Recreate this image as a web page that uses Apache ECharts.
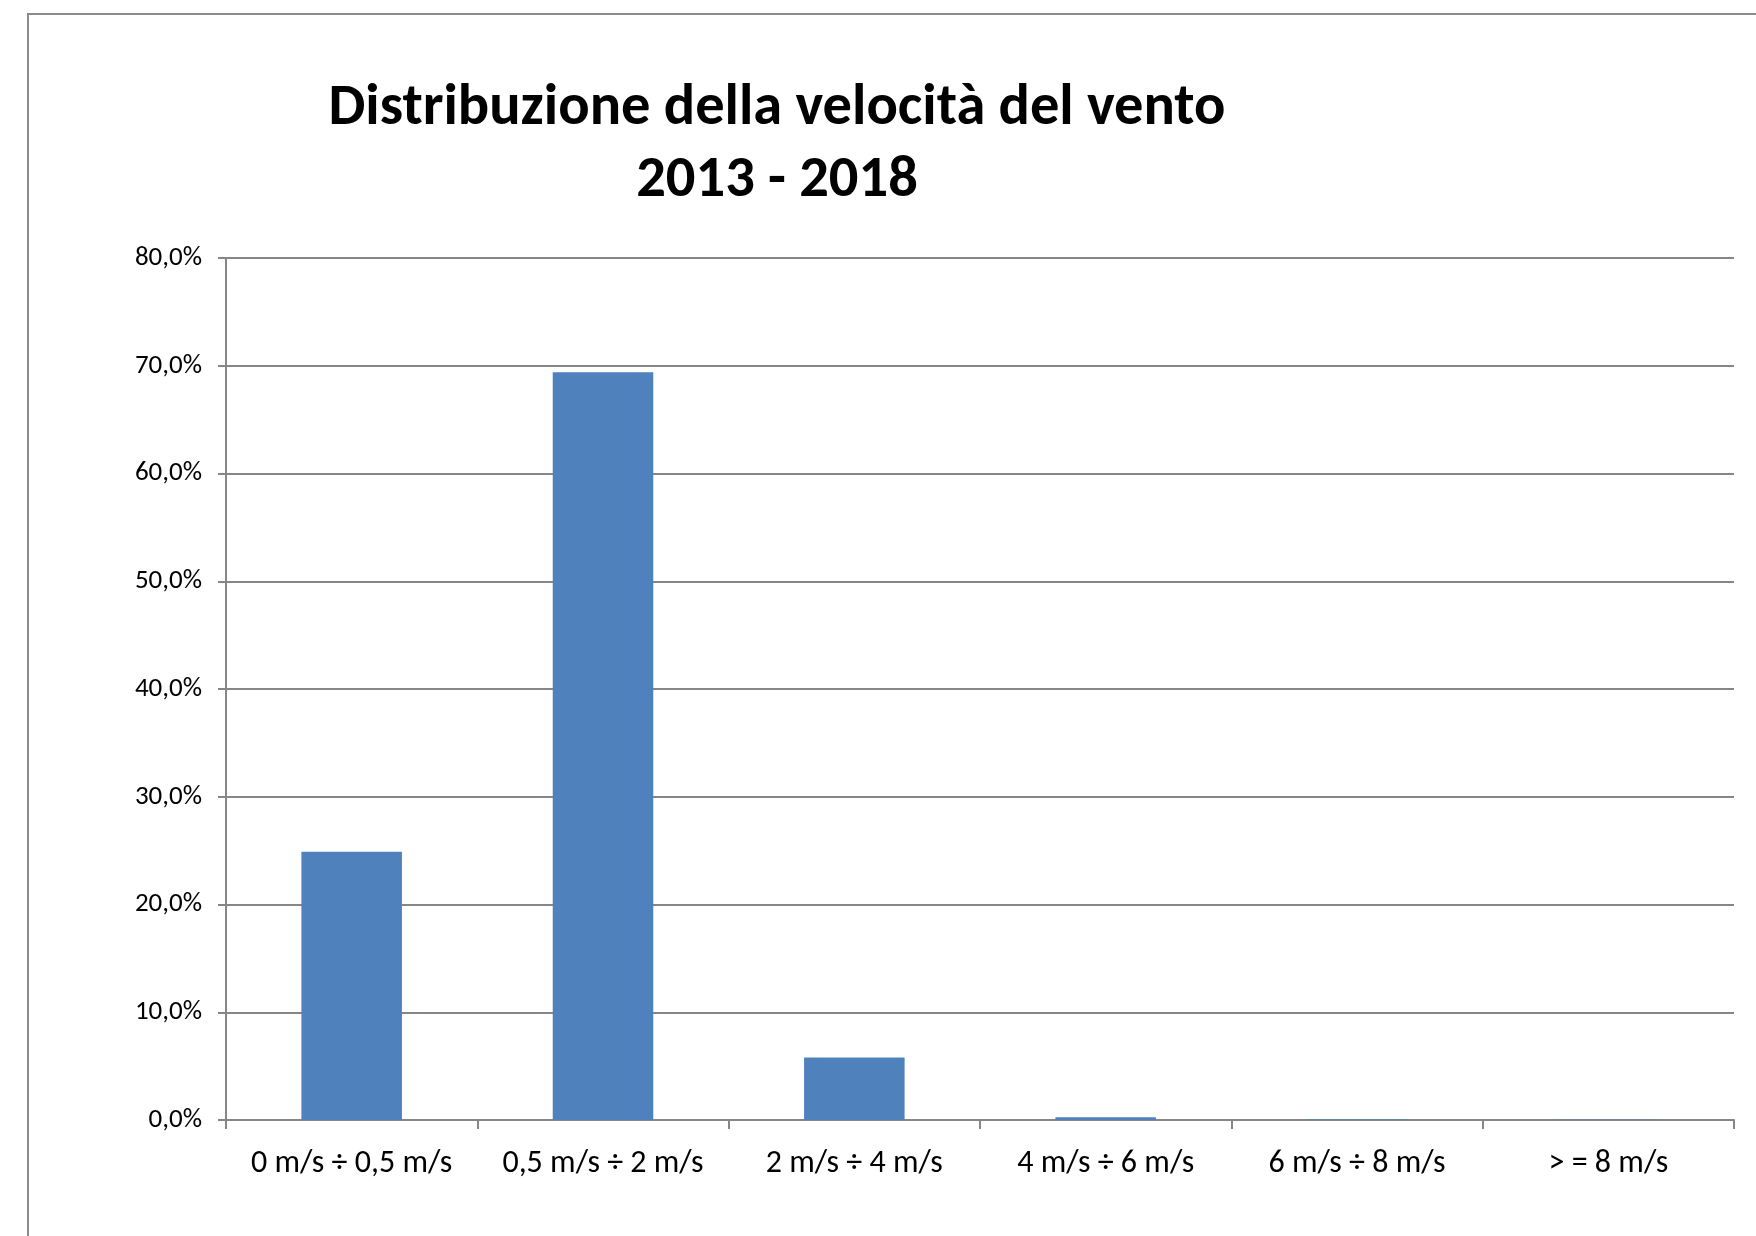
<!DOCTYPE html>
<html>
<head>
<meta charset="utf-8">
<script src="https://cdn.jsdelivr.net/npm/echarts@6/dist/echarts.min.js"></script>
<style>
  html, body { margin: 0; padding: 0; background: #fff; }
  #chart { width: 1756px; height: 1236px; }
</style>
</head>
<body>
<div id="chart"></div>
<script>
// classi di velocità del vento
const categories = ['0 m/s ÷ 0,5 m/s', '0,5 m/s ÷ 2 m/s', '2 m/s ÷ 4 m/s', '4 m/s ÷ 6 m/s', '6 m/s ÷ 8 m/s', '> = 8 m/s']
// frequenza percentuale
const frequenze = [24.9, 69.4, 5.8, 0.25, 0.04, 0.03]
const titleLines = ['Distribuzione della velocità del vento', '2013 - 2018']

const chart = echarts.init(document.getElementById('chart'))
const gray = '#868686'
const font = 'Carlito, "Open Sans", "Liberation Sans", sans-serif'

chart.setOption({
  backgroundColor: '#fff',
  animation: false,
  title: {
    text: titleLines.join('\n'),
    left: 772,
    textAlign: 'center',
    top: 68,
    textStyle: {
      fontFamily: font,
      fontWeight: 'bold',
      fontSize: 58.5,
      lineHeight: 72,
      color: '#000'
    }
  },
  graphic: [{
    type: 'rect',
    shape: { x: 28, y: 14, width: 2000, height: 2000 },
    style: { fill: 'none', stroke: '#8a8a8a', lineWidth: 2 },
    silent: true
  }],
  grid: {
    left: 226,
    right: 22,
    top: 258,
    bottom: 116,
    containLabel: false
  },
  xAxis: {
    type: 'category',
    data: categories,
    axisLine: { lineStyle: { color: gray, width: 2 } },
    axisTick: { show: true, interval: 0, length: 9, lineStyle: { color: gray, width: 2 } },
    axisLabel: {
      interval: 0,
      color: '#000',
      fontFamily: font,
      fontSize: 32,
      margin: 28
    }
  },
  yAxis: {
    type: 'value',
    min: 0,
    max: 80,
    interval: 10,
    axisLine: { show: true, lineStyle: { color: gray, width: 2 } },
    axisTick: { show: true, length: 8, lineStyle: { color: gray, width: 2 } },
    splitLine: { lineStyle: { color: gray, width: 2 } },
    axisLabel: {
      color: '#000',
      fontFamily: font,
      fontSize: 27,
      margin: 24,
      formatter: v => v.toFixed(1).replace('.', ',') + '%'
    }
  },
  series: [{
    type: 'bar',
    data: frequenze,
    barWidth: '40%',
    itemStyle: { color: '#4F81BD' }
  }]
})
</script>
</body>
</html>
